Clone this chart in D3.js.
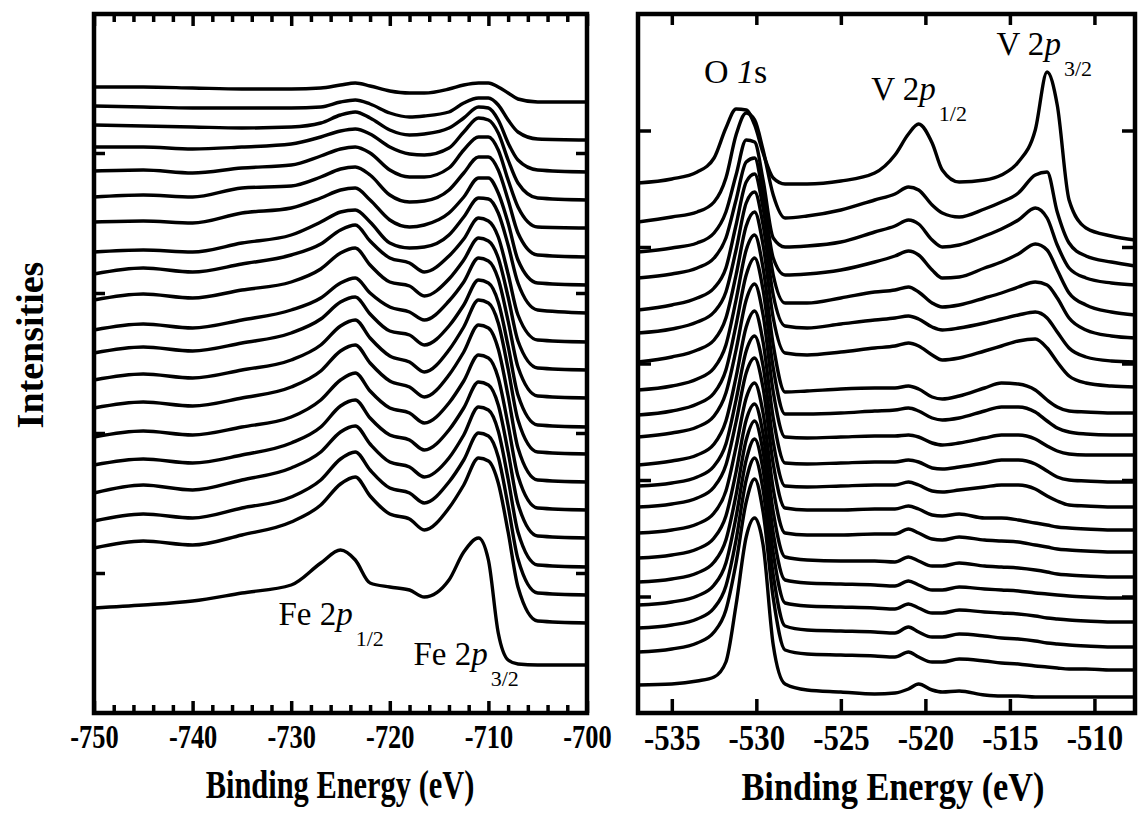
<!DOCTYPE html>
<html>
<head>
<meta charset="utf-8">
<script src="https://cdn.jsdelivr.net/npm/d3@7"></script>
<style>
  html, body { margin: 0; padding: 0; background: #fff; }
  svg text { font-family: "Liberation Serif", "Times New Roman", Times, serif; fill: #000; }
</style>
</head>
<body>
<svg id="chart" width="1138" height="833"></svg>
<script>
// ---- Fe 2p region: binding energy grid (eV) and stacked spectra (arb. units, top to bottom)
const feEnergy = [-750, -745, -740, -735, -730, -727, -725, -723.5, -722, -720, -718, -716.5,
                  -714, -712.5, -711, -710, -709, -708, -707, -705, -700];
const feSpectra = [
  [626, 626, 625, 624, 624, 625, 628, 630, 627, 622, 620, 620, 624, 628, 630, 630, 626, 620, 614, 611, 611],
  [607, 606, 605, 605, 605, 606, 611, 613, 609, 600, 596, 597, 601, 610, 615, 615, 608, 593, 581, 574, 573],
  [588, 587, 586, 585, 586, 590, 598, 601, 595, 583, 578, 579, 585, 595, 606, 605, 593, 570, 553, 543, 541],
  [566, 566, 564, 566, 569, 576, 582, 584, 579, 566, 559, 558, 565, 581, 595, 593, 580, 553, 530, 515, 513],
  [542, 543, 540, 545, 548, 557, 564, 566, 560, 543, 536, 536, 545, 563, 576, 576, 563, 533, 506, 486, 485],
  [516, 518, 516, 525, 527, 536, 544, 546, 538, 518, 511, 512, 523, 540, 556, 556, 543, 513, 480, 458, 456],
  [491, 492, 490, 500, 505, 515, 523, 525, 513, 493, 486, 488, 500, 516, 535, 535, 520, 490, 453, 430, 428],
  [461, 463, 461, 470, 478, 491, 501, 503, 491, 470, 465, 466, 478, 496, 515, 514, 500, 468, 430, 403, 400],
  [439, 445, 441, 449, 458, 469, 483, 488, 472, 455, 450, 441, 457, 474, 495, 492, 476, 439, 398, 373, 371],
  [413, 419, 415, 423, 431, 444, 460, 465, 448, 431, 427, 417, 434, 453, 475, 472, 455, 416, 372, 345, 343],
  [383, 389, 385, 393, 403, 415, 430, 435, 420, 406, 401, 393, 412, 431, 455, 452, 434, 392, 346, 317, 315],
  [360, 366, 362, 370, 380, 394, 411, 416, 399, 382, 378, 368, 387, 408, 433, 430, 411, 367, 318, 288, 286],
  [333, 339, 335, 343, 353, 368, 387, 393, 375, 357, 351, 341, 363, 386, 413, 410, 390, 344, 293, 261, 259],
  [305, 311, 307, 315, 326, 342, 362, 368, 350, 332, 326, 316, 338, 361, 388, 385, 364, 317, 265, 233, 231],
  [276, 282, 278, 286, 296, 313, 333, 340, 322, 305, 300, 290, 310, 332, 358, 355, 335, 288, 237, 205, 203],
  [248, 254, 250, 258, 270, 286, 307, 313, 295, 278, 273, 263, 283, 305, 331, 328, 308, 261, 209, 177, 175],
  [220, 228, 223, 233, 245, 261, 281, 287, 269, 251, 246, 236, 255, 278, 306, 303, 282, 234, 181, 148, 146],
  [192, 199, 195, 205, 216, 233, 254, 261, 243, 225, 220, 210, 231, 253, 280, 277, 256, 207, 154, 120, 118],
  [165, 172, 168, 178, 191, 208, 229, 236, 217, 199, 194, 183, 205, 228, 255, 252, 230, 181, 126,  92,  90],
  [105, 108, 112, 120, 128, 150, 163, 153, 130, 126, 123, 116, 133, 161, 175, 153,  80,  53,  49,  48,  48]
];

// ---- O 1s / V 2p region
const vEnergy = [-537, -535, -533.5, -532.5, -531.8, -531.2, -530.6, -530.1, -529.6, -529, -528.3,
                 -527, -525, -523, -521.8, -521, -520.4, -519.6, -519, -518, -516.5, -515.5,
                 -514.5, -513.5, -512.8, -512.2, -511.5, -510.5, -509, -507.6];
const vSpectra = [
  [530, 534, 541, 555, 585, 604, 603, 588, 560, 535, 529, 529, 532, 540, 558, 579, 589, 570, 543, 531, 533, 538, 551, 583, 641, 608, 513, 485, 477, 473],
  [491, 496, 501, 511, 535, 578, 600, 593, 563, 518, 495, 497, 503, 513, 519, 526, 523, 508, 500, 496, 504, 511, 520, 538, 541, 501, 470, 457, 451, 447],
  [461, 465, 470, 480, 501, 538, 573, 571, 533, 475, 466, 467, 471, 481, 487, 493, 489, 473, 466, 468, 477, 484, 493, 505, 495, 468, 445, 435, 430, 428],
  [435, 439, 445, 455, 475, 513, 551, 555, 518, 455, 438, 439, 443, 451, 457, 462, 458, 443, 435, 436, 445, 451, 459, 469, 463, 443, 420, 408, 401, 398],
  [403, 408, 415, 425, 445, 488, 531, 539, 505, 438, 410, 410, 415, 421, 423, 426, 421, 410, 406, 408, 415, 420, 426, 431, 428, 415, 395, 383, 377, 375],
  [380, 384, 391, 401, 421, 463, 510, 521, 488, 418, 387, 385, 389, 393, 395, 397, 394, 386, 383, 385, 390, 394, 398, 401, 395, 381, 365, 356, 352, 351],
  [351, 356, 363, 373, 395, 438, 487, 501, 468, 395, 360, 358, 361, 365, 367, 370, 367, 358, 353, 355, 362, 367, 372, 374, 365, 351, 337, 330, 327, 326],
  [323, 327, 334, 345, 368, 413, 463, 478, 445, 368, 321, 322, 324, 325, 325, 327, 324, 316, 314, 317, 325, 330, 329, 323, 313, 306, 302, 301, 300, 300],
  [298, 302, 309, 320, 343, 388, 438, 455, 423, 345, 299, 299, 300, 302, 303, 305, 302, 295, 293, 295, 302, 306, 306, 301, 292, 285, 281, 279, 278, 278],
  [276, 280, 286, 297, 320, 363, 413, 429, 398, 321, 276, 275, 276, 277, 277, 278, 276, 270, 268, 270, 275, 278, 278, 274, 267, 262, 259, 258, 258, 258],
  [248, 252, 258, 269, 292, 336, 386, 402, 371, 295, 250, 249, 250, 251, 251, 253, 251, 245, 244, 246, 250, 253, 253, 249, 242, 236, 233, 232, 231, 231],
  [227, 230, 236, 247, 269, 313, 362, 377, 347, 271, 227, 226, 227, 228, 228, 231, 228, 222, 221, 223, 226, 228, 228, 224, 217, 212, 208, 207, 206, 206],
  [206, 209, 215, 226, 248, 291, 340, 355, 325, 249, 205, 203, 203, 204, 204, 207, 204, 198, 197, 199, 195, 195, 193, 190, 188, 186, 185, 184, 183, 183],
  [180, 183, 189, 200, 222, 266, 315, 330, 300, 224, 180, 178, 178, 179, 179, 184, 180, 174, 173, 176, 173, 172, 171, 168, 166, 164, 163, 162, 161, 161],
  [155, 158, 164, 175, 197, 241, 293, 309, 279, 201, 156, 153, 152, 152, 151, 156, 152, 147, 147, 150, 147, 146, 145, 143, 141, 139, 138, 137, 136, 136],
  [131, 134, 140, 151, 173, 218, 273, 292, 261, 180, 133, 130, 129, 128, 127, 132, 128, 123, 123, 126, 124, 123, 122, 120, 119, 118, 117, 116, 115, 115],
  [108, 111, 117, 128, 150, 196, 253, 274, 243, 160, 110, 107, 106, 105, 104, 109, 105, 100, 100, 103, 101, 100,  99,  97,  95,  94,  93,  92,  91,  91],
  [ 85,  88,  94, 105, 127, 173, 233, 255, 223, 138,  87,  83,  82,  81,  80,  86,  81,  76,  76,  79,  77,  75,  74,  72,  70,  69,  68,  67,  66,  66],
  [ 61,  64,  70,  81, 103, 150, 211, 234, 201, 115,  63,  59,  58,  57,  56,  61,  56,  51,  51,  54,  52,  50,  49,  47,  46,  45,  44,  44,  43,  43],
  [ 28,  29,  32,  36,  51, 108, 176, 195, 168,  68,  29,  23,  21,  19,  20,  24,  29,  23,  21,  22,  18,  17,  17,  16,  16,  16,  16,  16,  16,  16]
];

// ---- tick values
const feMajorTicks = [-750, -740, -730, -720, -710, -700];
const feMinorTicks = d3.range(-748, -700, 2).filter(v => v % 10 !== 0);
const vMajorTicks = [-535, -530, -525, -520, -515, -510];
const feIntensityTicks = [140, 280, 420, 560];
const vIntensityTicks = [116.5, 233, 349.5, 466, 582.5];

// ---- peak annotations
const feLabels = [
  { main: "Fe 2", ital: "p", sub: "1/2", e: -731.3, v: 88 },
  { main: "Fe 2", ital: "p", sub: "3/2", e: -717.6, v: 48 }
];
const vLabels = [
  { main: "V 2", ital: "p", sub: "1/2", e: -523.2, v: 613 },
  { main: "V 2", ital: "p", sub: "3/2", e: -515.8, v: 658 }
];

const svg = d3.select("#chart");
const TOP = 14, BOTTOM = 713;

const panels = [
  {
    energy: feEnergy, spectra: feSpectra,
    x: d3.scaleLinear().domain([-750, -700]).range([94, 587]),
    y: d3.scaleLinear().domain([0, 699]).range([BOTTOM, TOP]),
    major: feMajorTicks, minor: feMinorTicks, yTicks: feIntensityTicks,
    majorLenTop: 12, majorLenBottom: 12, minorLen: 8, yLen: 11,
    tickFont: 33, tickSquash: 0.8,
    title: "Binding Energy (eV)", titleX: 340, titleY: 798, titleFont: 39, titleSquash: 0.78,
    labels: feLabels
  },
  {
    energy: vEnergy, spectra: vSpectra,
    x: d3.scaleLinear().domain([-537, -507.6]).range([638, 1135]),
    y: d3.scaleLinear().domain([0, 699]).range([BOTTOM, TOP]),
    major: vMajorTicks, minor: [], yTicks: vIntensityTicks,
    majorLenTop: 11, majorLenBottom: 14, minorLen: 0, yLen: 13,
    tickFont: 35, tickSquash: 0.88,
    title: "Binding Energy (eV)", titleX: 893, titleY: 800, titleFont: 39, titleSquash: 0.88,
    labels: vLabels
  }
];

function drawPanel(p) {
  const g = svg.append("g");
  const [x0, x1] = p.x.range();

  const line = d3.line()
    .x(d => p.x(d[0]))
    .y(d => p.y(d[1]))
    .curve(d3.curveMonotoneX);

  g.append("g").selectAll("path")
    .data(p.spectra)
    .join("path")
    .attr("d", s => line(s.map((v, i) => [p.energy[i], v])))
    .attr("fill", "none")
    .attr("stroke", "#000")
    .attr("stroke-width", 3.4)
    .attr("stroke-linejoin", "round")
    .attr("stroke-linecap", "round");

  const styleAxis = sel => {
    sel.select(".domain").remove();
    sel.selectAll(".tick line").attr("stroke", "#000").attr("stroke-width", 3.5);
  };

  // bottom axis with labels (narrow bold serif numerals)
  g.append("g")
    .attr("transform", `translate(0,${BOTTOM})`)
    .call(d3.axisBottom(p.x).tickValues(p.major).tickSize(-p.majorLenBottom)
      .tickPadding(12).tickFormat(d => String(d)))
    .call(styleAxis)
    .call(s => s.selectAll("text")
      .attr("font-size", p.tickFont).attr("font-weight", "bold")
      .attr("font-family", "'Liberation Serif', 'Times New Roman', serif")
      .attr("transform", `scale(${p.tickSquash},1)`));

  // top axis
  g.append("g")
    .attr("transform", `translate(0,${TOP})`)
    .call(d3.axisTop(p.x).tickValues(p.major).tickSize(-p.majorLenTop).tickFormat(""))
    .call(styleAxis);

  if (p.minor.length) {
    g.append("g").attr("transform", `translate(0,${BOTTOM})`)
      .call(d3.axisBottom(p.x).tickValues(p.minor).tickSize(-p.minorLen).tickFormat(""))
      .call(styleAxis);
    g.append("g").attr("transform", `translate(0,${TOP})`)
      .call(d3.axisTop(p.x).tickValues(p.minor).tickSize(-p.minorLen).tickFormat(""))
      .call(styleAxis);
  }

  // intensity ticks on both sides (no labels)
  g.append("g").attr("transform", `translate(${x0},0)`)
    .call(d3.axisLeft(p.y).tickValues(p.yTicks).tickSize(-p.yLen).tickFormat(""))
    .call(styleAxis);
  g.append("g").attr("transform", `translate(${x1},0)`)
    .call(d3.axisRight(p.y).tickValues(p.yTicks).tickSize(-p.yLen).tickFormat(""))
    .call(styleAxis);

  // frame
  g.append("rect")
    .attr("x", x0).attr("y", TOP)
    .attr("width", x1 - x0).attr("height", BOTTOM - TOP)
    .attr("fill", "none").attr("stroke", "#000").attr("stroke-width", 4.5);

  // axis title
  g.append("text")
    .attr("transform", `translate(${p.titleX},${p.titleY}) scale(${p.titleSquash},1)`)
    .attr("text-anchor", "middle")
    .attr("font-size", p.titleFont).attr("font-weight", "bold")
    .text(p.title);

  // peak annotations
  p.labels.forEach(l => {
    const t = g.append("text")
      .attr("x", p.x(l.e)).attr("y", p.y(l.v))
      .attr("font-size", 33);
    t.append("tspan").text(l.main);
    t.append("tspan").attr("font-style", "italic").text(l.ital);
    t.append("tspan").attr("font-size", 22).attr("dx", 3).attr("dy", 21).text(l.sub);
  });
}

panels.forEach(drawPanel);

// O 1s label
const vp = panels[1];
const o1s = svg.append("text")
  .attr("x", vp.x(-533.1)).attr("y", vp.y(630))
  .attr("font-size", 34);
o1s.append("tspan").text("O ");
o1s.append("tspan").attr("font-style", "italic").text("1");
o1s.append("tspan").text("s");

// shared intensity label
svg.append("text")
  .attr("transform", "translate(43,345) rotate(-90)")
  .attr("text-anchor", "middle")
  .attr("font-size", 38).attr("font-weight", "bold")
  .text("Intensities");
</script>
</body>
</html>
